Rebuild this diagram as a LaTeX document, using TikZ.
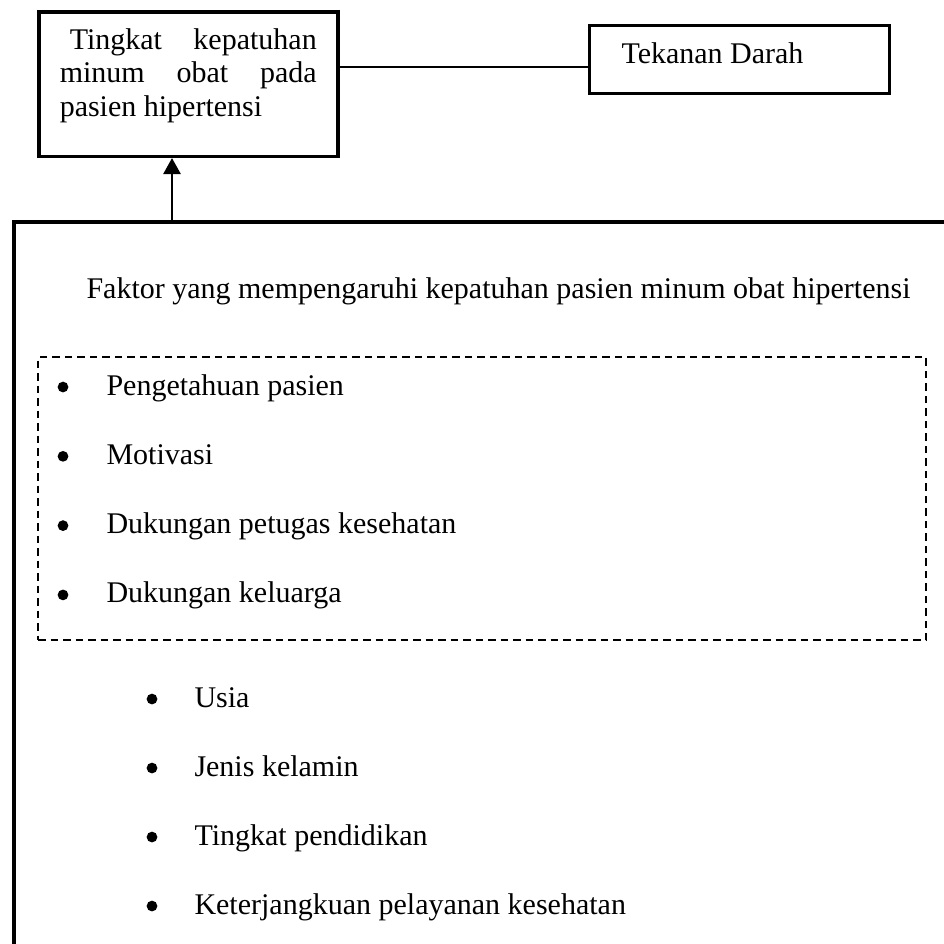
\documentclass[tikz,border=0pt]{standalone}
\usepackage{fontspec}
\setmainfont{Liberation Serif}
\usetikzlibrary{arrows.meta}
\hyphenpenalty=10000
\tolerance=10000
\tikzset{
  kotak/.style={draw, line width=1.4pt, inner sep=0pt, anchor=north west},
  butir/.style={anchor=base west, inner sep=0pt},
  titik/.style={circle, fill, inner sep=0pt, minimum size=4.3pt},
}

\begin{document}
\begin{tikzpicture}[x=0.4pt, y=-0.4pt, font=\fontsize{12pt}{13.4pt}\selectfont]
  \useasboundingbox (0,0) rectangle (944,943);
  \clip (0,0) rectangle (944,943);

  \node [kotak, inner xsep=8.4pt, inner ysep=6.8pt, text width=102.8pt, align=justify, text height=8.2pt, text depth=36pt] (TKP) at (37,10) {\hspace*{4pt}Tingkat kepatuhan minum obat pada pasien hipertensi};
  \node [kotak, line width=1.2pt, inner xsep=12.8pt, inner ysep=7pt, text width=94.4pt, align=flush left, text height=8.2pt, text depth=5pt] (TD) at (588,24) {Tekanan Darah};

  \coordinate (hub) at (0,67);
  \coordinate (panah) at (172,0);
  \draw[line width=0.6pt] (TKP.east |- hub) -- (TD.west |- hub);

  \node [kotak, line width=1.5pt, minimum width=400pt, minimum height=320pt] (FK) at (12,220) {};
  \draw[-{Triangle[width=6.8pt,length=6.4pt]}, line width=1pt] (FK.north -| panah) -- (TKP.south -| panah);

  \node [butir] (judul) at (86,298) {Faktor yang mempengaruhi kepatuhan pasien minum obat hipertensi};

  \node [kotak, line width=0.8pt, dash pattern=on 3pt off 2pt, minimum width=355.2pt, minimum height=113.2pt] (GRP) at (37,356) {};

  \foreach \isi [count=\i] in {Pengetahuan pasien, Motivasi, Dukungan petugas kesehatan, Dukungan keluarga}{
    \node [titik] (b\i) at (63, {387+69.3*(\i-1)}) {};
    \node [butir] (p\i) at (106, {395+69.3*(\i-1)}) {\isi};
  }
  \foreach \isi [count=\i] in {Usia, Jenis kelamin, Tingkat pendidikan, Keterjangkuan pelayanan kesehatan}{
    \node [titik] (c\i) at (152, {699+69*(\i-1)}) {};
    \node [butir] (q\i) at (194, {707+69*(\i-1)}) {\isi};
  }
\end{tikzpicture}
\end{document}
